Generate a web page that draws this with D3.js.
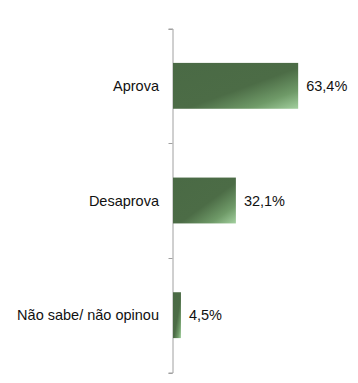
<!DOCTYPE html>
<html><head><meta charset="utf-8">
<script src="https://cdn.jsdelivr.net/npm/d3@7"></script>
<style>body{margin:0;background:#fff;}svg{display:block;}</style>
</head><body>
<script>
const categories = ["Aprova", "Desaprova", "Não sabe/ não opinou"];
const values = [63.4, 32.1, 4.5];
const valueLabels = ["63,4%", "32,1%", "4,5%"];

const W = 358, H = 383;
const svg = d3.select("body").append("svg").attr("width", W).attr("height", H);
const defs = svg.append("defs");
const grad = defs.append("linearGradient").attr("id", "g")
  .attr("x1", 0).attr("y1", 0).attr("x2", 1).attr("y2", 1);
grad.append("stop").attr("offset", "0").attr("stop-color", "#4a6a45");
grad.append("stop").attr("offset", "0.55").attr("stop-color", "#4c6c46");
grad.append("stop").attr("offset", "0.8").attr("stop-color", "#6f9a68");
grad.append("stop").attr("offset", "1").attr("stop-color", "#a3d09f");

const x0 = 172;
const x = d3.scaleLinear().domain([0, 100]).range([x0, x0 + 199]);
const y = d3.scaleBand().domain(categories).range([28.5, 372.5]).paddingInner(0.6).paddingOuter(0.3);

// axis
const axis = d3.axisLeft(y).tickSize(4).tickSizeOuter(4).tickFormat("");
const ag = svg.append("g").attr("transform", `translate(${x0 + 0.5},0)`).call(axis);
ag.selectAll(".tick").remove();
ag.select(".domain").attr("stroke", "#a0a0a0");
// tick marks at band boundaries
const step = y.step();
const bounds = [0, 1, 2, 3].map(i => 28.5 + i * (344 / 3));
ag.selectAll(".bt").data(bounds).enter().append("line")
  .attr("x1", -4).attr("x2", 0).attr("y1", d => Math.round(d) + 0.5).attr("y2", d => Math.round(d) + 0.5)
  .attr("stroke", "#a0a0a0");

svg.selectAll(".bar").data(values).enter().append("rect")
  .attr("x", x0 + 1).attr("y", (d, i) => y(categories[i]))
  .attr("width", d => x(d) - x0 - 1).attr("height", y.bandwidth())
  .attr("fill", "url(#g)");

svg.selectAll(".cat").data(categories).enter().append("text")
  .attr("x", 159).attr("y", d => y(d) + y.bandwidth() / 2)
  .attr("dy", "0.35em").attr("text-anchor", "end")
  .attr("font-family", "Liberation Sans, Arial, sans-serif").attr("font-size", "14.5px")
  .attr("fill", "#111").text(d => d);

svg.selectAll(".val").data(values).enter().append("text")
  .attr("x", d => x(d) + 8).attr("y", (d, i) => y(categories[i]) + y.bandwidth() / 2)
  .attr("dy", "0.35em")
  .attr("font-family", "Liberation Sans, Arial, sans-serif").attr("font-size", "14.5px")
  .attr("fill", "#111").text((d, i) => valueLabels[i]);
</script>
</body></html>
